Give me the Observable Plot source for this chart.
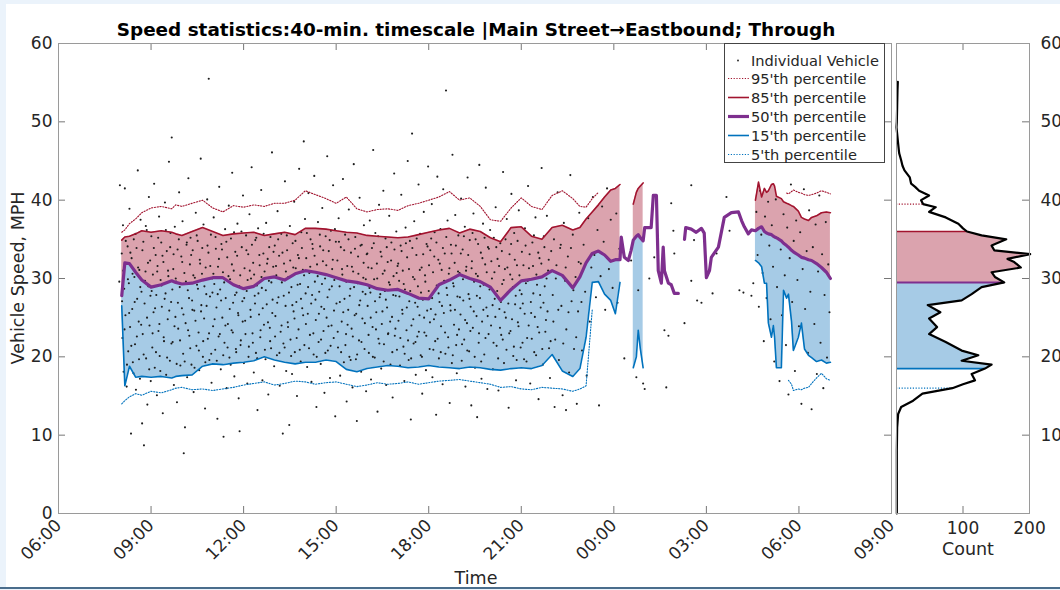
<!DOCTYPE html>
<html>
<head>
<meta charset="utf-8">
<script src="https://cdn.jsdelivr.net/npm/d3@7"></script>
<script src="https://cdn.jsdelivr.net/npm/@observablehq/plot@0.6"></script>
<style>
html,body{margin:0;padding:0;width:1060px;height:590px;overflow:hidden;background:#ebf3fb;font-family:"DejaVu Sans",sans-serif;}
#page{position:absolute;left:6px;top:4px;width:1054px;height:583px;background:#fff;}
#bottomline{position:absolute;left:0;top:587px;width:1060px;height:2px;background:#4a6d8c;}
#title{position:absolute;left:0;width:952px;top:19px;text-align:center;font-weight:bold;font-size:18.4px;line-height:22px;color:#000;white-space:nowrap;}
#main,#hist{position:absolute;top:0;}
#main{left:0;}
#hist{left:893px;}
.lbl{position:absolute;font-size:17.5px;color:#262626;white-space:nowrap;line-height:20px;}
#legend{position:absolute;left:724px;top:43px;width:159px;height:118px;border:1px solid #444;background:#fff;font-size:14.6px;color:#262626;}
.row{position:absolute;left:0;height:19px;line-height:19px;width:158px;}
.row svg{position:absolute;left:2px;top:0;}
.row span{position:absolute;left:26px;white-space:nowrap;}
</style>
</head>
<body>
<div id="page"></div>
<div id="bottomline"></div>
<div id="main"></div>
<div id="hist"></div>
<div id="title">Speed statistics:40-min. timescale |Main Street→Eastbound; Through</div>
<div class="lbl" id="ylab" style="left:18px;top:278px;transform:translate(-50%,-50%) rotate(-90deg);">Vehicle Speed, MPH</div>
<div class="lbl" style="left:476px;top:578px;transform:translate(-50%,-50%);">Time</div>
<div class="lbl" style="left:968px;top:549px;transform:translate(-50%,-50%);">Count</div>
<div id="legend"></div>
<script>
// ---------- DATA ----------
// time in hours since midnight of day 1 (24+ = next day)
const xDomain = [6, 33];
const yDomain = [0, 60];
const countDomain = [0, 200];
const xTicks = [6, 9, 12, 15, 18, 21, 24, 27, 30, 33];
const yTicks = [0, 10, 20, 30, 40, 50, 60];
const histYTicks = [10, 20, 30, 40, 50, 60];
const histXTicks = [100, 200];

const mainTimes = [8.05, 8.15, 8.3, 8.5, 8.7, 9.0, 9.33, 9.67, 9.8, 10.0, 10.33, 10.67, 11.0, 11.33, 11.67, 12.0, 12.33, 12.67, 13.0, 13.33, 13.67, 14.0, 14.33, 14.67, 15.0, 15.33, 15.67, 16.0, 16.33, 16.67, 17.0, 17.33, 17.67, 18.0, 18.33, 18.67, 19.0, 19.33, 19.67, 20.0, 20.33, 20.67, 21.0, 21.33, 21.67, 22.0, 22.33, 22.67, 22.9, 23.1, 23.3, 23.5, 23.7, 23.9, 24.05, 24.2];
const p95Main = [35.9, 36.2, 37.0, 37.6, 38.4, 39.0, 39.2, 38.9, 39.4, 39.2, 39.6, 40.0, 39.0, 38.5, 39.3, 39.1, 39.4, 39.2, 39.6, 39.6, 40.0, 41.2, 40.7, 40.2, 39.6, 40.4, 38.9, 38.5, 38.8, 38.9, 38.7, 39.3, 39.6, 40.0, 40.4, 41.1, 40.0, 40.3, 39.2, 37.5, 37.3, 39.0, 40.3, 39.2, 38.8, 40.6, 41.2, 40.2, 39.2, 39.1, 40.2, 41.0, null, null, null, null];
const p85Main = [34.9, 35.3, 35.4, 35.7, 36.1, 35.9, 36.1, 35.9, 35.7, 35.5, 36.0, 36.5, 36.0, 35.5, 35.7, 35.8, 35.9, 35.5, 35.7, 35.9, 35.6, 36.4, 36.4, 36.3, 36.1, 35.9, 35.8, 35.5, 35.4, 35.3, 35.2, 35.3, 35.6, 35.9, 36.2, 36.4, 35.8, 36.3, 36.0, 35.2, 34.7, 36.5, 36.6, 35.4, 35.0, 36.5, 36.8, 36.2, 36.5, 37.6, 38.5, 39.4, 40.4, 41.3, 41.5, 42.0];
const p50Main = [27.8, 32.0, 31.9, 30.8, 29.8, 28.9, 29.2, 29.7, 29.5, 29.3, 29.4, 29.8, 30.1, 30.1, 29.2, 28.7, 29.0, 30.0, 30.2, 29.8, 30.6, 31.0, 30.8, 30.5, 30.1, 29.7, 29.5, 29.2, 28.7, 28.5, 28.6, 28.1, 27.5, 27.4, 29.2, 29.8, 30.5, 30.0, 29.6, 28.9, 27.2, 28.6, 29.7, 29.9, 30.2, 31.0, 30.4, 28.8, 30.2, 32.0, 33.2, 33.5, 33.0, 32.2, 32.4, 32.4];
const p15Main = [26.5, 16.3, 18.8, 17.4, 17.5, 17.4, 17.5, 17.3, 17.5, 17.6, 17.7, 18.8, 19.1, 19.0, 19.2, 19.3, 19.5, 20.0, 19.6, 19.3, 19.1, 19.3, 19.3, 19.6, 19.4, 18.4, 18.1, 18.5, 18.7, 18.9, 18.8, 18.6, 18.7, 18.9, 18.7, 18.6, 18.5, 18.7, 18.6, 18.4, 18.3, 18.5, 18.6, 18.5, 18.9, 20.3, 18.2, 17.5, 18.5, 22.5, 29.5, 29.6, 28.0, 27.2, 25.5, 29.5];
const p5Main = [14.0, 14.4, 14.9, 15.3, 15.1, 15.6, 15.4, 15.8, 16.0, 16.1, 15.8, 15.9, 15.7, 15.9, 16.1, 16.4, 16.6, 16.8, 16.4, 16.6, 16.9, 16.8, 16.5, 16.7, 16.8, 16.5, 16.2, 16.4, 16.7, 16.5, 16.6, 16.8, 16.5, 16.7, 16.9, 17.0, 17.1, 16.9, 16.7, 16.5, 16.1, 16.2, 15.9, 15.8, 16.1, 16.0, 15.9, 15.6, 15.9, 16.3, 26.0, null, null, null, null, null];

const bandTimes = [24.63, 24.73, 24.79, 24.86, 24.95];
const p85Band = [39.5, 41.0, 41.5, 41.8, 42.2];
const p50Band = [34.9, 35.4, 35.6, 35.2, 34.8];
const p15Band = [18.6, 20.0, 23.4, 21.0, 18.6];

const nightTimes = [24.24, 24.34, 24.47, 24.56, 24.63, 24.73, 24.79, 24.86, 24.95, 25.0, 25.21, 25.28, 25.38, 25.44, 25.54, 25.60, 25.64, 25.77, 25.86, 25.96, 26.09, 26.2, 26.29, 26.33, 26.51, 26.67, 26.84, 26.93, 27.0, 27.1, 27.16, 27.39, 27.58, 27.81, 28.04, 28.14, 28.23, 28.36, 28.46];
const p50Night = [35.3, 32.7, 32.3, 33.6, 34.9, 35.4, 35.6, 35.2, 34.8, 36.5, 36.5, 40.6, 40.6, 31.0, 29.4, 34.0, 31.0, 29.4, 29.2, 28.1, 28.1, null, 35.0, 36.5, 36.3, 35.9, 36.4, 35.8, 30.1, 31.0, 32.7, 34.0, 37.8, 38.4, 38.5, 37.4, 36.6, 35.7, 36.2];

const morningTimes = [28.59, 28.69, 28.79, 28.88, 28.95, 29.01, 29.11, 29.17, 29.21, 29.27, 29.43, 29.50, 29.60, 29.66, 29.76, 29.82, 29.98, 30.08, 30.18, 30.31, 30.41, 30.57, 30.73, 30.89, 31.02];
const p95Morning = [null, null, null, null, null, null, null, null, null, null, null, null, 40.9, 40.8, 41.1, 41.3, 41.0, 40.9, 40.7, 40.6, 40.7, 40.9, 41.2, 41.0, 40.8];
const p85Morning = [40.0, 42.3, 40.4, 41.5, 41.0, 41.2, 42.0, 42.1, 41.8, 40.5, 40.2, 39.8, 39.6, 39.5, 39.3, 39.2, 38.6, 37.8, 37.6, 37.4, 37.8, 38.0, 38.4, 38.5, 38.4];
const p50Morning = [36.1, 36.4, 36.6, 36.0, 35.8, 35.7, 35.6, 35.4, 35.3, 35.2, 34.8, 34.5, 34.2, 34.0, 33.6, 33.4, 33.0, 32.7, 32.6, 32.4, 32.3, 31.9, 31.4, 30.8, 30.0];
const p15Morning = [32.3, 32.0, 31.5, 29.4, 29.4, 24.3, 22.5, 24.0, 22.5, 18.6, 18.6, 28.5, 27.5, 28.0, 24.5, 20.8, 22.5, 24.3, 21.0, 20.2, 19.9, 19.4, 19.6, 19.2, 19.3];
const p5Morning = [null, null, null, null, null, null, null, null, null, null, null, null, null, 17.0, 16.5, 15.7, 15.9, 15.8, 16.0, 16.1, 16.6, 17.3, 17.9, 17.2, 17.0];

// individual vehicles: [time (h), speed (mph)]
const vehicles = [
[7.97,29.6],[7.99,41.9],
[8.05,33.2],[8.07,22.4],[8.09,36.8],[8.11,18.1],[8.13,28.7],[8.15,41.5],[8.17,25.3],[8.19,31.9],[8.21,16.2],[8.24,34.1],[8.26,20.7],[8.28,29.4],[8.30,38.9],[8.32,23.8],[8.35,10.2],[8.37,32.6],[8.39,26.1],[8.41,19.3],[8.44,35.0],[8.46,30.2],[8.48,21.6],[8.51,15.8],[8.53,33.9],[8.55,27.4],[8.57,43.8],[8.60,24.5],[8.62,31.1],[8.64,17.2],[8.66,37.5],[8.69,28.3],[8.71,11.5],[8.73,22.9],[8.75,34.7],[8.77,8.7],[8.79,26.8],[8.82,30.9],[8.84,19.8],[8.86,36.2],[8.88,13.9],[8.91,29.0],[8.93,40.4],[8.95,24.0],[8.97,32.3],[8.99,16.9],
[8.06,27.1],[8.10,31.0],[8.14,23.5],[8.18,34.8],[8.22,19.0],[8.25,29.9],[8.29,25.6],[8.33,33.3],[8.36,21.4],[8.40,30.6],[8.43,17.9],[8.47,27.0],[8.50,35.7],[8.54,22.6],[8.58,31.4],[8.61,19.7],[8.65,28.9],[8.68,24.1],[8.72,33.6],[8.76,20.3],[8.80,29.7],[8.83,36.7],[8.87,25.0],[8.90,32.0],[8.94,18.4],[8.98,27.8],
[9.01,35.4],[9.04,21.2],[9.06,30.5],[9.08,25.7],[9.10,42.1],[9.12,18.6],[9.15,33.0],[9.17,27.9],[9.19,15.1],[9.21,31.6],[9.24,23.3],[9.26,37.9],[9.28,20.1],[9.31,29.8],[9.33,34.6],[9.35,26.4],[9.38,12.8],[9.40,32.1],[9.42,22.0],[9.45,39.7],[9.47,28.1],[9.49,17.7],[9.51,33.5],[9.54,24.8],[9.56,30.3],[9.58,44.9],[9.61,19.5],[9.63,35.8],[9.65,27.0],[9.67,48.0],[9.70,21.9],[9.72,31.2],[9.74,16.4],[9.77,36.6],[9.79,25.1],[9.81,29.6],[9.84,14.2],[9.86,33.7],[9.88,23.6],[9.91,41.0],[9.93,28.9],[9.95,18.9],[9.98,32.8],
[9.02,28.4],[9.05,23.0],[9.09,33.9],[9.13,26.2],[9.16,20.6],[9.20,30.9],[9.23,35.2],[9.27,24.2],[9.30,18.2],[9.34,29.1],[9.37,32.9],[9.41,22.5],[9.44,27.4],[9.48,36.2],[9.52,19.9],[9.55,31.0],[9.59,25.9],[9.62,34.0],[9.66,21.7],[9.69,28.6],[9.73,33.1],[9.76,23.9],[9.80,30.0],[9.83,19.1],[9.87,26.9],[9.90,35.0],[9.94,22.1],[9.97,29.3],
[10.00,26.2],[10.02,37.3],[10.04,20.4],[10.06,7.7],[10.08,30.7],[10.10,11.0],[10.12,24.3],[10.15,34.3],[10.17,17.4],[10.19,28.5],[10.21,42.8],[10.24,22.7],[10.26,31.8],[10.28,35.2],[10.31,19.0],[10.33,27.2],[10.35,33.6],[10.38,15.5],[10.40,25.9],[10.42,30.1],[10.45,38.4],[10.47,21.4],[10.49,29.2],[10.51,34.8],[10.54,23.1],[10.56,18.3],[10.58,32.4],[10.61,45.3],[10.63,26.6],[10.65,30.6],[10.68,20.0],[10.70,36.9],[10.72,24.9],[10.75,13.4],[10.77,31.4],[10.79,28.0],[10.82,40.1],[10.84,22.3],[10.86,33.3],[10.87,55.5],[10.89,19.6],[10.91,27.7],[10.94,35.6],[10.96,16.7],[10.98,30.0],
[10.01,32.1],[10.05,25.4],[10.09,19.4],[10.13,29.6],[10.16,34.6],[10.20,23.4],[10.23,27.5],[10.27,21.1],[10.30,33.0],[10.34,26.0],[10.37,30.4],[10.41,18.6],[10.44,24.6],[10.48,35.5],[10.52,28.7],[10.55,20.8],[10.59,31.9],[10.62,25.8],[10.66,33.9],[10.69,22.0],[10.73,29.0],[10.76,19.3],[10.80,26.5],[10.83,34.2],[10.88,23.0],[10.92,31.6],[10.95,20.4],[10.99,28.2],
[11.01,23.9],[11.03,37.8],[11.05,29.3],[11.08,20.9],[11.10,33.8],[11.12,26.3],[11.15,12.1],[11.17,31.5],[11.19,22.6],[11.21,41.7],[11.24,28.6],[11.26,18.4],[11.28,34.4],[11.31,25.0],[11.33,30.8],[11.35,9.8],[11.38,21.8],[11.40,36.3],[11.42,27.5],[11.45,16.0],[11.47,32.7],[11.49,24.2],[11.52,39.3],[11.54,19.9],[11.56,29.9],[11.59,35.1],[11.61,23.4],[11.63,43.5],[11.66,26.9],[11.68,31.0],[11.70,17.5],[11.73,33.4],[11.75,21.0],[11.77,28.2],[11.80,37.0],[11.82,25.6],[11.84,14.7],[11.87,10.5],[11.89,30.4],[11.91,22.1],[11.94,34.0],[11.96,27.1],[11.98,40.6],
[11.02,30.6],[11.06,24.8],[11.09,35.3],[11.13,19.5],[11.16,28.0],[11.20,32.5],[11.23,22.9],[11.27,27.2],[11.30,33.7],[11.34,20.2],[11.37,29.5],[11.41,24.0],[11.44,34.7],[11.48,21.2],[11.51,30.3],[11.55,26.1],[11.58,19.0],[11.62,31.8],[11.65,23.1],[11.69,35.9],[11.72,27.9],[11.76,20.6],[11.79,32.9],[11.83,25.3],[11.86,29.0],[11.90,21.5],[11.93,36.0],[11.97,24.5],
[12.01,19.2],[12.03,31.3],[12.05,24.6],[12.08,35.5],[12.10,28.4],[12.12,16.6],[12.15,33.1],[12.17,21.3],[12.19,38.2],[12.22,26.0],[12.24,30.0],[12.26,44.2],[12.29,23.0],[12.31,32.0],[12.33,18.0],[12.36,27.8],[12.38,34.9],[12.40,20.5],[12.43,29.1],[12.45,13.2],[12.47,36.4],[12.50,25.4],[12.52,31.7],[12.54,22.5],[12.57,41.3],[12.59,28.8],[12.61,17.0],[12.64,33.2],[12.66,24.1],[12.68,30.9],[12.71,19.7],[12.73,37.1],[12.75,26.7],[12.78,32.5],[12.80,15.2],[12.82,29.7],[12.85,23.7],[12.87,35.3],[12.89,21.1],[12.92,46.1],[12.94,27.3],[12.96,31.5],[12.99,18.8],
[12.02,27.5],[12.06,22.9],[12.09,33.6],[12.13,29.8],[12.16,20.0],[12.20,31.0],[12.23,25.1],[12.27,34.3],[12.30,21.8],[12.34,30.5],[12.37,26.8],[12.41,35.2],[12.44,19.8],[12.48,28.1],[12.51,33.0],[12.55,23.4],[12.58,30.2],[12.62,26.2],[12.65,35.7],[12.69,20.9],[12.72,28.5],[12.76,31.9],[12.79,24.4],[12.83,34.0],[12.86,22.0],[12.90,29.5],[12.93,25.6],[12.97,33.4],
[13.01,34.2],[13.03,25.2],[13.06,30.4],[13.08,20.2],[13.10,38.6],[13.13,27.6],[13.15,32.9],[13.17,16.3],[13.20,23.2],[13.22,35.7],[13.24,29.5],[13.27,10.2],[13.29,21.7],[13.31,31.9],[13.34,42.4],[13.36,26.5],[13.38,18.2],[13.41,33.6],[13.43,24.4],[13.45,30.2],[13.48,11.3],[13.50,36.7],[13.52,22.2],[13.55,28.9],[13.57,17.8],[13.59,34.5],[13.62,25.8],[13.64,39.8],[13.66,20.6],[13.69,31.3],[13.71,27.0],[13.73,15.0],[13.76,33.0],[13.78,23.5],[13.80,44.0],[13.83,29.3],[13.85,19.4],[13.87,35.9],[13.90,26.2],[13.92,31.1],[13.95,47.5],[13.97,21.5],[13.99,37.6],
[13.02,22.6],[13.05,31.6],[13.09,26.9],[13.12,35.0],[13.16,20.5],[13.19,29.9],[13.23,24.0],[13.26,33.3],[13.30,27.8],[13.33,21.2],[13.37,30.9],[13.40,35.5],[13.44,23.8],[13.47,28.2],[13.51,32.3],[13.54,20.1],[13.58,26.6],[13.61,31.4],[13.65,24.9],[13.68,34.8],[13.72,22.4],[13.75,29.2],[13.79,32.6],[13.82,20.9],[13.86,27.4],[13.89,33.9],[13.93,25.3],[13.96,30.4],
[14.01,28.1],[14.03,32.6],[14.06,18.7],[14.08,25.5],[14.10,40.9],[14.13,30.7],[14.15,22.8],[14.17,35.0],[14.20,16.8],[14.22,27.9],[14.24,33.8],[14.27,20.3],[14.29,43.1],[14.31,29.6],[14.34,24.7],[14.36,13.6],[14.38,31.8],[14.41,37.2],[14.43,21.9],[14.45,28.3],[14.48,34.1],[14.50,19.1],[14.52,26.4],[14.55,39.0],[14.57,32.2],[14.59,23.3],[14.62,15.4],[14.64,30.0],[14.66,35.4],[14.69,25.0],[14.71,45.6],[14.73,20.8],[14.76,33.5],[14.78,28.6],[14.80,17.3],[14.83,36.1],[14.85,24.0],[14.87,31.2],[14.90,41.9],[14.92,22.4],[14.94,29.8],[14.97,12.4],[14.99,34.7],
[14.02,24.2],[14.05,35.8],[14.09,28.9],[14.12,21.1],[14.16,31.5],[14.19,26.8],[14.23,34.4],[14.26,23.0],[14.30,32.9],[14.33,27.3],[14.37,20.0],[14.40,30.3],[14.44,25.5],[14.47,35.6],[14.51,22.2],[14.54,29.3],[14.58,33.6],[14.61,26.1],[14.65,20.5],[14.68,31.7],[14.72,27.6],[14.75,23.9],[14.79,34.9],[14.82,21.4],[14.86,29.0],[14.89,32.4],[14.93,25.9],[14.96,36.3],
[15.01,26.8],[15.04,32.3],[15.06,21.2],[15.08,37.7],[15.11,29.0],[15.13,17.6],[15.15,34.0],[15.18,24.5],[15.20,30.5],[15.22,42.7],[15.25,19.3],[15.27,27.4],[15.29,35.6],[15.32,22.9],[15.34,14.3],[15.36,31.6],[15.39,26.0],[15.41,38.8],[15.43,20.0],[15.46,28.7],[15.48,33.3],[15.50,23.6],[15.53,16.1],[15.55,30.9],[15.57,44.6],[15.60,25.3],[15.62,35.3],[15.64,19.7],[15.67,11.8],[15.69,29.4],[15.71,32.8],[15.74,22.1],[15.76,40.3],[15.78,27.2],[15.81,18.1],[15.83,34.3],[15.85,24.9],[15.88,30.1],[15.90,36.8],[15.92,21.0],[15.95,28.0],[15.97,15.6],[15.99,33.1],
[15.02,30.1],[15.05,23.2],[15.09,34.7],[15.12,27.0],[15.16,20.6],[15.19,31.2],[15.23,25.7],[15.26,33.6],[15.30,21.5],[15.33,29.6],[15.37,24.1],[15.40,35.0],[15.44,27.8],[15.47,19.6],[15.51,31.5],[15.54,22.6],[15.58,28.9],[15.61,33.8],[15.65,25.5],[15.68,20.3],[15.72,30.6],[15.75,26.6],[15.79,34.2],[15.82,21.9],[15.86,28.3],[15.89,32.0],[15.93,24.3],[15.96,29.9],
[16.02,26.5],[16.04,31.4],[16.06,20.5],[16.09,37.4],[16.11,28.2],[16.13,17.1],[16.16,33.9],[16.18,23.8],[16.20,46.4],[16.23,29.9],[16.25,19.9],[16.27,35.8],[16.30,25.7],[16.32,31.9],[16.34,13.0],[16.37,22.3],[16.39,39.4],[16.41,27.6],[16.44,33.4],[16.46,18.5],[16.48,24.2],[16.51,30.6],[16.53,41.2],[16.55,21.6],[16.58,28.4],[16.60,35.1],[16.62,16.4],[16.65,26.3],[16.67,32.1],[16.69,23.0],[16.72,38.0],[16.74,29.2],[16.76,19.0],[16.79,34.6],[16.81,25.1],[16.83,14.8],[16.86,30.3],[16.88,43.4],[16.90,22.7],[16.93,27.8],[16.95,36.0],[16.97,20.9],[16.99,31.6],
[16.01,33.2],[16.05,22.8],[16.08,28.8],[16.12,25.0],[16.15,31.3],[16.19,20.0],[16.22,34.5],[16.26,27.1],[16.29,23.5],[16.33,30.0],[16.36,35.4],[16.40,21.7],[16.43,28.0],[16.47,32.8],[16.50,25.8],[16.54,19.4],[16.57,31.0],[16.61,27.3],[16.64,34.0],[16.68,22.9],[16.71,29.5],[16.75,24.5],[16.78,32.3],[16.82,20.6],[16.85,27.9],[16.89,33.7],[16.92,23.6],[16.96,30.7],
[17.02,24.6],[17.04,29.7],[17.07,18.9],[17.09,34.2],[17.11,40.7],[17.14,26.0],[17.16,31.0],[17.18,21.3],[17.21,16.9],[17.23,28.6],[17.25,36.5],[17.28,23.4],[17.30,32.7],[17.32,45.0],[17.35,19.6],[17.37,27.1],[17.39,34.8],[17.42,12.0],[17.44,24.0],[17.46,48.5],[17.49,30.2],[17.51,21.7],[17.53,37.3],[17.56,26.9],[17.58,17.7],[17.60,33.0],[17.63,22.6],[17.65,29.0],[17.67,42.0],[17.70,25.3],[17.72,35.7],[17.74,20.2],[17.77,31.4],[17.79,15.3],[17.81,27.3],[17.84,38.5],[17.86,23.1],[17.88,30.4],[17.91,18.3],[17.93,34.4],[17.95,25.9],[17.98,44.3],
[17.01,31.9],[17.05,27.7],[17.08,22.4],[17.12,33.5],[17.15,25.5],[17.19,29.3],[17.22,20.4],[17.26,34.5],[17.29,26.3],[17.33,22.1],[17.36,31.2],[17.40,28.4],[17.43,19.8],[17.47,33.9],[17.50,24.8],[17.54,29.9],[17.57,21.9],[17.61,35.1],[17.64,26.4],[17.68,23.2],[17.71,31.1],[17.75,28.2],[17.78,20.0],[17.82,33.1],[17.85,25.0],[17.89,29.6],[17.92,22.7],[17.96,34.1],
[18.00,28.4],[18.03,21.0],[18.05,33.6],[18.07,26.1],[18.10,39.5],[18.12,17.4],[18.14,30.8],[18.17,24.8],[18.19,35.9],[18.21,22.0],[18.24,12.6],[18.26,29.1],[18.28,43.0],[18.31,32.4],[18.33,19.8],[18.35,27.0],[18.38,36.3],[18.40,23.9],[18.42,31.1],[18.45,16.5],[18.47,41.4],[18.49,25.6],[18.52,33.2],[18.54,20.4],[18.56,54.0],[18.58,28.8],[18.61,37.4],[18.63,22.5],[18.65,30.6],[18.68,14.1],[18.70,26.6],[18.72,34.3],[18.75,19.2],[18.77,45.8],[18.79,29.4],[18.82,24.1],[18.84,32.0],[18.86,38.1],[18.89,21.5],[18.91,17.9],[18.93,27.7],[18.96,35.5],[18.98,23.5],
[18.01,31.7],[18.04,24.4],[18.08,35.1],[18.11,27.5],[18.15,20.9],[18.18,32.8],[18.22,25.4],[18.25,34.6],[18.29,22.3],[18.32,28.1],[18.36,31.9],[18.39,20.6],[18.43,26.5],[18.46,33.9],[18.50,29.7],[18.53,23.1],[18.57,35.3],[18.60,27.9],[18.64,21.2],[18.67,31.3],[18.71,25.9],[18.74,33.2],[18.78,20.2],[18.81,29.0],[18.85,26.0],[18.88,34.2],[18.92,22.8],[18.95,30.9],
[19.00,30.7],[19.03,25.4],[19.05,40.2],[19.07,19.5],[19.10,33.7],[19.12,27.2],[19.15,22.2],[19.17,36.6],[19.19,16.2],[19.22,31.5],[19.24,24.3],[19.26,42.9],[19.29,28.0],[19.31,20.7],[19.33,34.9],[19.36,26.4],[19.38,13.8],[19.40,32.2],[19.43,23.7],[19.45,38.3],[19.47,29.6],[19.50,18.6],[19.52,35.0],[19.55,25.2],[19.57,12.3],[19.59,30.3],[19.62,21.8],[19.64,44.5],[19.66,27.5],[19.69,33.3],[19.71,17.2],[19.73,24.5],[19.76,37.0],[19.78,29.2],[19.80,20.3],[19.83,31.8],[19.85,41.6],[19.87,26.3],[19.90,15.9],[19.92,34.0],[19.94,22.9],[19.97,28.6],[19.99,36.2],
[19.01,27.6],[19.04,33.2],[19.08,21.6],[19.11,29.9],[19.14,35.4],[19.18,24.7],[19.21,31.0],[19.25,20.8],[19.28,33.0],[19.32,27.4],[19.35,23.3],[19.39,31.3],[19.42,35.8],[19.46,25.8],[19.49,20.0],[19.53,30.6],[19.56,27.8],[19.60,34.4],[19.63,23.0],[19.67,29.0],[19.70,19.4],[19.74,32.6],[19.77,26.0],[19.81,35.2],[19.84,22.4],[19.88,30.8],[19.91,25.2],[19.95,33.8],
[20.02,24.0],[20.05,30.0],[20.08,18.4],[20.11,35.2],[20.14,27.4],[20.17,39.1],[20.20,21.4],[20.23,32.5],[20.26,15.7],[20.29,26.1],[20.32,34.5],[20.35,22.8],[20.38,29.3],[20.41,43.6],[20.44,19.2],[20.47,31.2],[20.50,25.0],[20.53,37.6],[20.56,28.2],[20.59,13.5],[20.62,33.1],[20.65,23.3],[20.68,40.8],[20.71,29.9],[20.74,20.1],[20.77,35.8],[20.80,26.7],[20.83,17.0],[20.86,31.7],[20.89,24.4],[20.92,38.7],[20.95,28.5],[20.98,21.2],
[20.03,32.2],[20.07,26.6],[20.10,21.8],[20.13,30.8],[20.16,25.1],[20.19,34.0],[20.22,28.4],[20.25,19.8],[20.28,31.6],[20.31,23.7],[20.34,27.0],[20.37,33.5],[20.40,22.2],[20.43,29.8],[20.46,25.7],[20.49,35.0],[20.52,20.9],[20.55,31.4],[20.58,26.8],[20.61,23.0],[20.64,30.5],[20.67,34.4],[20.70,24.8],[20.73,28.9],[20.76,21.3],[20.79,32.4],[20.82,27.8],[20.85,19.6],[20.88,34.8],[20.91,23.9],[20.94,30.4],[20.97,26.2],
[21.02,33.4],[21.05,26.8],[21.09,19.7],[21.12,36.4],[21.15,29.4],[21.19,22.4],[21.22,41.8],[21.25,31.3],[21.29,16.6],[21.32,25.6],[21.36,34.6],[21.39,28.1],[21.42,20.6],[21.46,37.8],[21.49,30.5],[21.53,23.8],[21.56,14.6],[21.59,32.6],[21.63,26.3],[21.66,44.1],[21.70,19.0],[21.73,35.4],[21.76,29.0],[21.80,24.7],[21.83,38.0],[21.87,31.0],[21.90,21.1],[21.93,17.3],[21.97,33.5],
[21.01,28.0],[21.04,21.8],[21.07,31.7],[21.11,25.5],[21.14,34.2],[21.17,19.4],[21.21,29.7],[21.24,24.0],[21.27,33.1],[21.31,27.0],[21.34,22.3],[21.38,31.6],[21.41,35.5],[21.44,25.1],[21.48,20.2],[21.51,29.2],[21.55,33.3],[21.58,23.1],[21.61,27.9],[21.65,31.9],[21.68,21.0],[21.72,26.9],[21.75,34.0],[21.78,23.2],[21.82,30.0],[21.85,25.8],[21.89,32.4],[21.95,22.0],
[22.02,27.9],[22.06,35.0],[22.08,13.6],[22.10,22.2],[22.14,31.7],[22.18,41.0],[22.22,19.6],[22.26,33.9],[22.30,26.5],[22.34,15.1],[22.38,37.1],[22.42,29.7],[22.45,13.2],[22.46,23.5],[22.51,32.8],[22.55,18.0],[22.59,43.2],[22.63,27.1],[22.67,35.6],[22.71,21.0],[22.76,30.2],[22.80,14.0],[22.84,25.8],[22.88,38.4],[22.93,31.9],[22.97,20.8],
[22.04,24.5],[22.12,30.0],[22.20,26.0],[22.28,34.3],[22.36,21.7],[22.44,31.4],[22.53,25.7],[22.61,33.9],[22.69,28.5],[22.78,22.5],[22.86,32.1],[22.95,27.0],
[23.02,34.3],[23.07,28.3],[23.12,17.6],[23.17,37.7],[23.22,24.5],[23.27,31.4],[23.32,40.4],[23.37,33.0],[23.42,27.6],[23.47,36.2],[23.52,13.8],[23.57,30.3],[23.62,39.2],[23.67,34.7],[23.72,26.0],[23.78,41.5],[23.84,31.2],[23.90,37.5],[23.96,28.8],
[24.08,38.3],[24.12,26.9],[24.18,33.8],[24.34,19.8],[24.56,32.3],[24.73,17.4],[24.79,28.5],[24.95,16.6],[25.0,15.9],[25.15,30.0],[25.31,32.7],[25.64,23.4],[25.7,16.1],[25.77,22.7],[25.86,39.6],[25.93,36.1],[25.96,33.2],[26.29,24.3],[26.51,41.9],[26.51,29.7],[26.6,34.9],[26.7,27.2],[26.84,26.9],[27.2,28.1],[27.33,33.2],[27.65,40.4],[27.75,36.1],[28.07,28.5],[28.2,28.2],[28.46,27.8],[28.52,29.4],
[28.62,38.5],[28.66,33.0],[28.70,26.4],[28.74,41.2],[28.78,35.6],[28.82,30.7],[28.86,22.0],[28.90,37.9],[28.95,27.5],[29.00,39.8],[29.04,34.2],[29.08,24.8],[29.12,36.8],[29.16,31.5],[29.20,19.4],[29.25,40.1],[29.29,28.9],[29.33,35.1],[29.37,16.9],[29.41,33.7],[29.45,25.3],[29.50,38.2],[29.54,30.4],[29.58,21.5],[29.62,36.5],[29.66,15.2],[29.70,32.6],[29.74,42.0],[29.78,27.0],[29.83,34.8],[29.87,18.2],[29.91,37.4],[29.95,29.8],[30.00,23.9],[30.04,35.9],[30.08,14.0],[30.12,31.2],[30.16,41.4],[30.20,26.1],[30.25,33.5],[30.29,20.5],[30.33,38.7],[30.37,28.3],[30.41,13.3],[30.45,34.0],[30.50,24.2],[30.54,36.9],[30.58,17.8],[30.62,30.9],[30.66,40.6],[30.70,21.8],[30.75,33.1],[30.79,16.0],[30.83,27.9],[30.87,37.2],[30.91,19.9],[30.95,31.8],[30.99,25.7]
];

// histogram of all speeds (right panel)
const histSpeed = [55.1, 54.0, 52.0, 50.0, 49.3, 47.2, 46.0, 45.1, 44.4, 43.8, 42.9, 42.1, 41.7, 41.2, 40.6, 40.0, 39.5, 39.1, 38.5, 37.8, 37.0, 36.4, 36.0, 35.5, 35.0, 34.2, 33.6, 33.1, 32.5, 32.1, 31.4, 30.8, 30.2, 29.5, 28.9, 28.0, 27.2, 26.6, 25.7, 24.9, 23.8, 22.9, 21.9, 20.8, 20.2, 19.5, 19.0, 18.5, 17.8, 17.0, 16.5, 16.0, 15.3, 14.4, 13.6, 12.7, 11.0, 8.0, 4.0, 0.0];
const histCount = [2, 1.5, 1, 0.5, 0, 2.5, 4, 7, 9, 12, 20, 22, 28, 34, 49, 37, 40, 59, 49, 74, 93, 100, 106, 128, 165, 143, 147, 201, 167, 177, 187, 143, 148, 162, 128, 113, 98, 47, 66, 49, 61, 49, 74, 98, 123, 98, 143, 133, 113, 118, 100, 84, 39, 25, 7, 2.5, 1, 0.5, 0.5, 0.5];
const histPctNames = ["95", "85", "50", "15", "5"];
const histPctSpeed = [39.5, 36.0, 29.5, 18.5, 16.0];
const histPctCount = [40, 106, 162, 133, 84];

const legendLabels = ["Individual Vehicle", "95'th percentile", "85'th percentile", "50'th percentile", "15'th percentile", "5'th percentile"];

// ---------- STYLES ----------
const red = "#a2142f", purple = "#7e2f8e", blue = "#0072bd";
const pinkFill = "#dba3ae", blueFill = "#a6cbe6";
const axisGrey = "#9a9a9a", tickGrey = "#777777", textCol = "#262626";
const pctStyle = {
  "95": {stroke: red, strokeWidth: 1.1, strokeDasharray: "1.2,1.6"},
  "85": {stroke: red, strokeWidth: 1.6},
  "50": {stroke: purple, strokeWidth: 3.2},
  "15": {stroke: blue, strokeWidth: 1.6},
  "5":  {stroke: blue, strokeWidth: 1.1, strokeDasharray: "1.2,1.6"}
};
const TK = 7; // inward tick length (px)
const MAIN = {width: 893, height: 590, marginLeft: 58, marginRight: 2, marginTop: 43, marginBottom: 77};
const HIST = {width: 167, height: 590, marginLeft: 3, marginRight: 31, marginTop: 43, marginBottom: 77};
const frameW = o => o.width - o.marginLeft - o.marginRight;
const frameH = o => o.height - o.marginTop - o.marginBottom;

// ---------- TABLES ----------
const mainRows = mainTimes.map((t, i) => ({t, p95: p95Main[i], p85: p85Main[i], p50: p50Main[i], p15: p15Main[i], p5: p5Main[i]}));
const bandRows = bandTimes.map((t, i) => ({t, p85: p85Band[i], p50: p50Band[i], p15: p15Band[i]}));
const nightRows = nightTimes.map((t, i) => ({t, p50: p50Night[i]}));
const mornRows = morningTimes.map((t, i) => ({t, p95: p95Morning[i], p85: p85Morning[i], p50: p50Morning[i], p15: p15Morning[i], p5: p5Morning[i]}));
const segs = [mainRows, bandRows, mornRows];
const histRows = histSpeed.map((s, i) => ({speed: s, count: histCount[i]}));
const histPct = histPctNames.map((n, i) => ({name: n, speed: histPctSpeed[i], count: histPctCount[i]}));

const fmt = h => String(h % 24).padStart(2, "0") + ":00";
const baseStyle = {background: "transparent", overflow: "visible", fontFamily: "DejaVu Sans, sans-serif", fontSize: "17px", color: textCol};

// inward tick marks (MATLAB style): short rules, length converted from px to data units
function tickMarks(o, xd, yd, xt, yt, ySides) {
  const lx = TK / frameW(o) * (xd[1] - xd[0]);
  const ly = TK / frameH(o) * (yd[1] - yd[0]);
  const st = {stroke: tickGrey, strokeWidth: 1};
  const marks = [
    Plot.ruleX(xt.map(v => ({v, a: yd[0], b: yd[0] + ly})), {x: "v", y1: "a", y2: "b", ...st}),
    Plot.ruleX(xt.map(v => ({v, a: yd[1] - ly, b: yd[1]})), {x: "v", y1: "a", y2: "b", ...st})
  ];
  if (ySides.includes("left")) marks.push(Plot.ruleY(yt.map(v => ({v, a: xd[0], b: xd[0] + lx})), {y: "v", x1: "a", x2: "b", ...st}));
  if (ySides.includes("right")) marks.push(Plot.ruleY(yt.map(v => ({v, a: xd[1] - lx, b: xd[1]})), {y: "v", x1: "a", x2: "b", ...st}));
  return marks;
}

const main = Plot.plot({
  ...MAIN,
  style: baseStyle,
  x: {domain: xDomain},
  y: {domain: yDomain},
  marks: [
    ...segs.flatMap(rows => [
      Plot.areaY(rows, {x: "t", y1: "p50", y2: "p85", fill: pinkFill}),
      Plot.areaY(rows, {x: "t", y1: "p15", y2: "p50", fill: blueFill})
    ]),
    Plot.dot(vehicles, {x: d => d[0], y: d => d[1], r: 1.05, fill: "#1c1c1c", stroke: "none"}),
    ...[mainRows, mornRows].map(rows => Plot.line(rows, {x: "t", y: "p95", ...pctStyle["95"]})),
    ...[mainRows, mornRows].map(rows => Plot.line(rows, {x: "t", y: "p5", ...pctStyle["5"]})),
    ...segs.map(rows => Plot.line(rows, {x: "t", y: "p85", ...pctStyle["85"]})),
    ...segs.map(rows => Plot.line(rows, {x: "t", y: "p15", ...pctStyle["15"]})),
    Plot.line([...mainRows, ...nightRows, ...mornRows], {x: "t", y: "p50", ...pctStyle["50"]}),
    ...tickMarks(MAIN, xDomain, yDomain, xTicks, yTicks, ["left", "right"]),
    Plot.frame({stroke: axisGrey}),
    Plot.axisX({ticks: xTicks, tickFormat: fmt, tickRotate: -45, tickSize: 0, tickPadding: 9, label: null}),
    Plot.axisY({ticks: yTicks, tickSize: 0, tickPadding: 6, label: null})
  ]
});
document.getElementById("main").append(main);

const inPink = d => d.speed <= histPctSpeed[1] && d.speed >= histPctSpeed[2];
const inBlue = d => d.speed <= histPctSpeed[2] && d.speed >= histPctSpeed[3];
const hist = Plot.plot({
  ...HIST,
  style: baseStyle,
  x: {domain: countDomain},
  y: {domain: yDomain},
  marks: [
    Plot.areaX(histRows.filter(inPink), {y: "speed", x: "count", fill: pinkFill}),
    Plot.areaX(histRows.filter(inBlue), {y: "speed", x: "count", fill: blueFill}),
    ...histPct.map(p => Plot.ruleY([p], {y: "speed", x1: 0, x2: "count", ...pctStyle[p.name], strokeWidth: Math.min(pctStyle[p.name].strokeWidth, 2)})),
    Plot.line(histRows, {x: "count", y: "speed", stroke: "#000", strokeWidth: 2.2}),
    ...tickMarks(HIST, countDomain, yDomain, [100], histYTicks, ["right"]),
    Plot.frame({stroke: axisGrey}),
    Plot.axisX({ticks: histXTicks, tickSize: 0, tickPadding: 8, label: null}),
    Plot.axisY({anchor: "right", ticks: histYTicks, tickSize: 0, tickPadding: 11, label: null})
  ]
});
document.getElementById("hist").append(hist);

// ---------- LEGEND ----------
const legend = document.getElementById("legend");
const keys = [null, "95", "85", "50", "15", "5"];
legendLabels.forEach((lab, i) => {
  const row = document.createElement("div");
  row.className = "row";
  row.style.top = (6.5 + i * 18.8) + "px";
  const k = keys[i];
  let sym;
  if (k === null) sym = `<circle cx="11" cy="9.5" r="0.9" fill="#1c1c1c"/>`;
  else {
    const s = pctStyle[k];
    sym = `<line x1="1" x2="22" y1="9.5" y2="9.5" stroke="${s.stroke}" stroke-width="${s.strokeWidth}" ${s.strokeDasharray ? `stroke-dasharray="${s.strokeDasharray}"` : ""}/>`;
  }
  row.innerHTML = `<svg width="24" height="19">${sym}</svg><span>${lab}</span>`;
  legend.append(row);
});
</script>
</body>
</html>
